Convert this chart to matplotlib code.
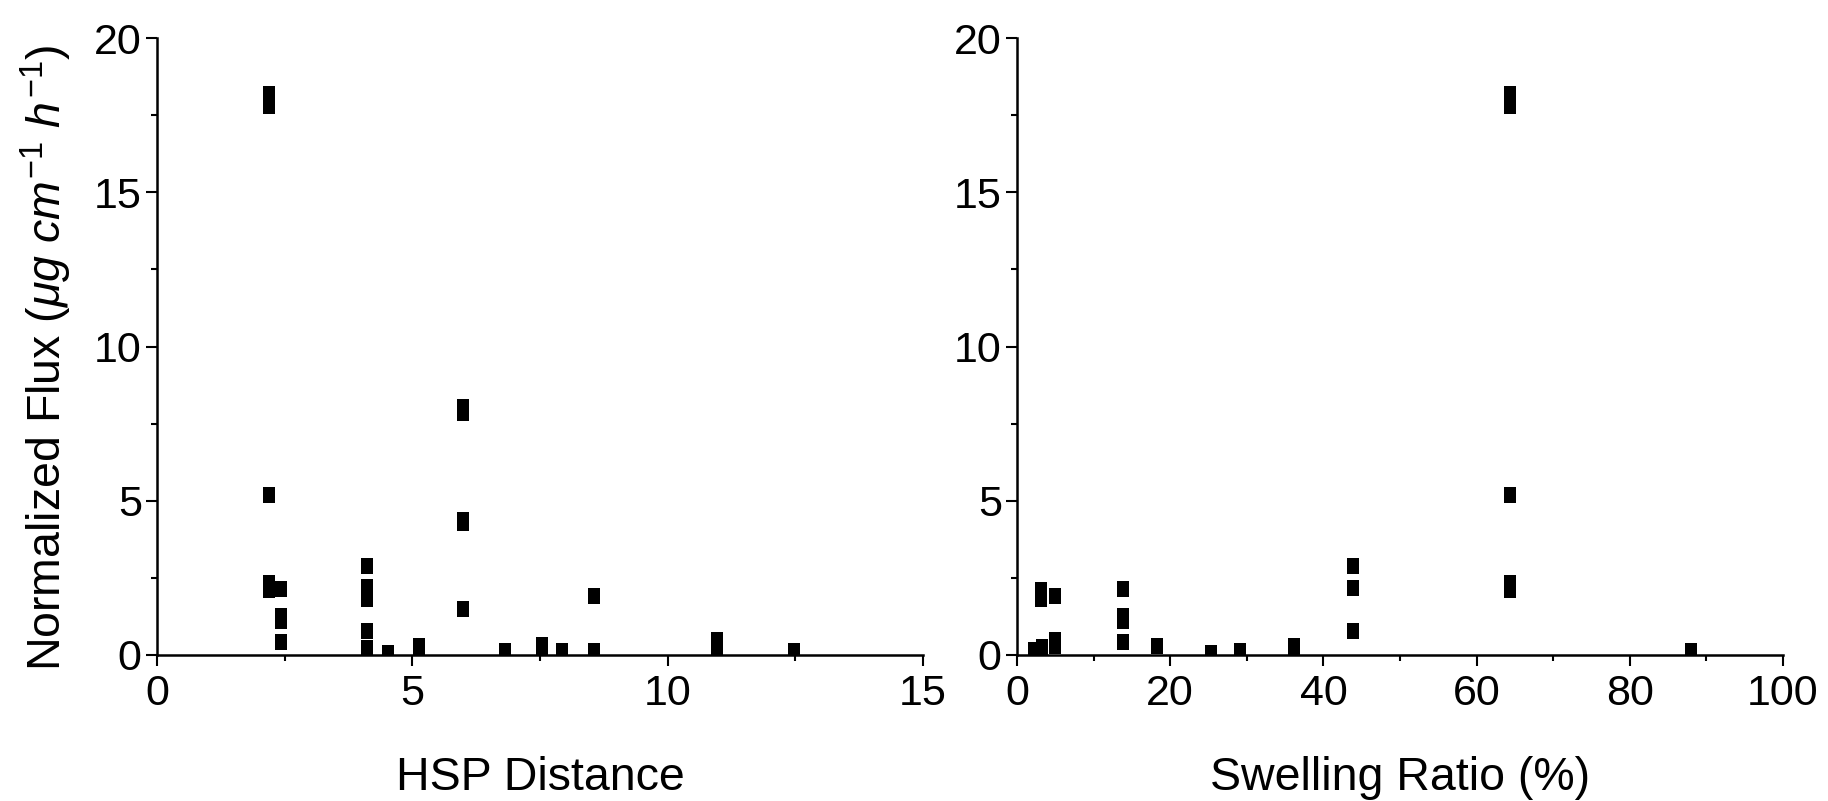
import matplotlib.pyplot as plt
from matplotlib.ticker import MultipleLocator

plt.rcParams['font.family'] = ['Liberation Sans', 'DejaVu Sans']
plt.rcParams['mathtext.fontset'] = 'custom'
plt.rcParams['mathtext.rm'] = 'Liberation Sans'
plt.rcParams['mathtext.it'] = 'Liberation Sans:italic'

# Left panel: HSP distance vs normalized flux
hsp_distance = [2.2, 2.2, 2.2, 2.2, 2.2,
                2.42, 2.42, 2.42, 2.42,
                4.12, 4.12, 4.12, 4.12, 4.12,
                4.53, 5.13, 5.13,
                6.0, 6.0, 6.0, 6.0, 6.0,
                6.82, 7.53, 7.53, 7.94, 8.55, 8.55,
                10.96, 10.96, 12.47]
hsp_flux = [18.2, 17.8, 5.2, 2.35, 2.1,
            2.14, 1.27, 1.11, 0.42,
            2.89, 2.19, 1.82, 0.78, 0.24,
            0.08, 0.30, 0.12,
            8.05, 7.85, 4.38, 4.28, 1.5,
            0.14, 0.32, 0.2, 0.14, 1.92, 0.14,
            0.49, 0.25, 0.14]

# Right panel: swelling ratio vs normalized flux
swelling_ratio = [2.2, 3.2, 3.1, 3.1,
                  5.0, 5.0, 5.0,
                  13.8, 13.8, 13.8, 13.8,
                  18.3, 25.3, 29.1, 36.2, 36.2,
                  43.9, 43.9, 43.9,
                  64.3, 64.3, 64.3, 64.3, 64.3,
                  88.0]
swelling_flux = [0.15, 0.25, 2.1, 1.82,
                 1.92, 0.49, 0.3,
                 2.14, 1.27, 1.11, 0.42,
                 0.30, 0.08, 0.14, 0.30, 0.2,
                 2.9, 2.16, 0.79,
                 18.2, 17.8, 5.18, 2.35, 2.11,
                 0.14]

# slightly tall square marker, as in the original export
box = [(-0.83, -1), (0.83, -1), (0.83, 1), (-0.83, 1), (-0.83, -1)]

fig = plt.figure(figsize=(18.28, 8.01), dpi=100)
ax1 = fig.add_axes([157 / 1828, 146 / 801, 766 / 1828, 617 / 801])
ax2 = fig.add_axes([1017 / 1828, 146 / 801, 766 / 1828, 617 / 801])

panels = [
    (ax1, hsp_distance, hsp_flux, 15, 5, 2.5, 'HSP Distance'),
    (ax2, swelling_ratio, swelling_flux, 100, 20, 10, 'Swelling Ratio (%)'),
]

for ax, xs, ys, xmax, xmaj, xmin, xlabel in panels:
    ax.plot(xs, ys, linestyle='none', marker=box, markersize=11.2,
            color='black', markeredgewidth=0)
    ax.set_xlim(0, xmax)
    ax.set_ylim(0, 20)
    ax.xaxis.set_major_locator(MultipleLocator(xmaj))
    ax.xaxis.set_minor_locator(MultipleLocator(xmin))
    ax.yaxis.set_major_locator(MultipleLocator(5))
    ax.yaxis.set_minor_locator(MultipleLocator(2.5))
    ax.spines['top'].set_visible(False)
    ax.spines['right'].set_visible(False)
    for side in ['left', 'bottom']:
        ax.spines[side].set_linewidth(1.8)
    ax.tick_params(which='major', direction='out', length=8, width=1.5,
                   labelsize=31, pad=3)
    ax.tick_params(axis='x', which='major', pad=6)
    ax.tick_params(which='minor', direction='out', length=4, width=1.5)
    ax.set_xlabel(xlabel, fontsize=33.5, labelpad=30)

ax1.set_ylabel(r'Normalized Flux ($\mu g\ cm^{-1}\ h^{-1}$)', fontsize=33.5, labelpad=14)
ax1.yaxis.label.set_y(0.482)

plt.savefig('out.png', dpi=100)
